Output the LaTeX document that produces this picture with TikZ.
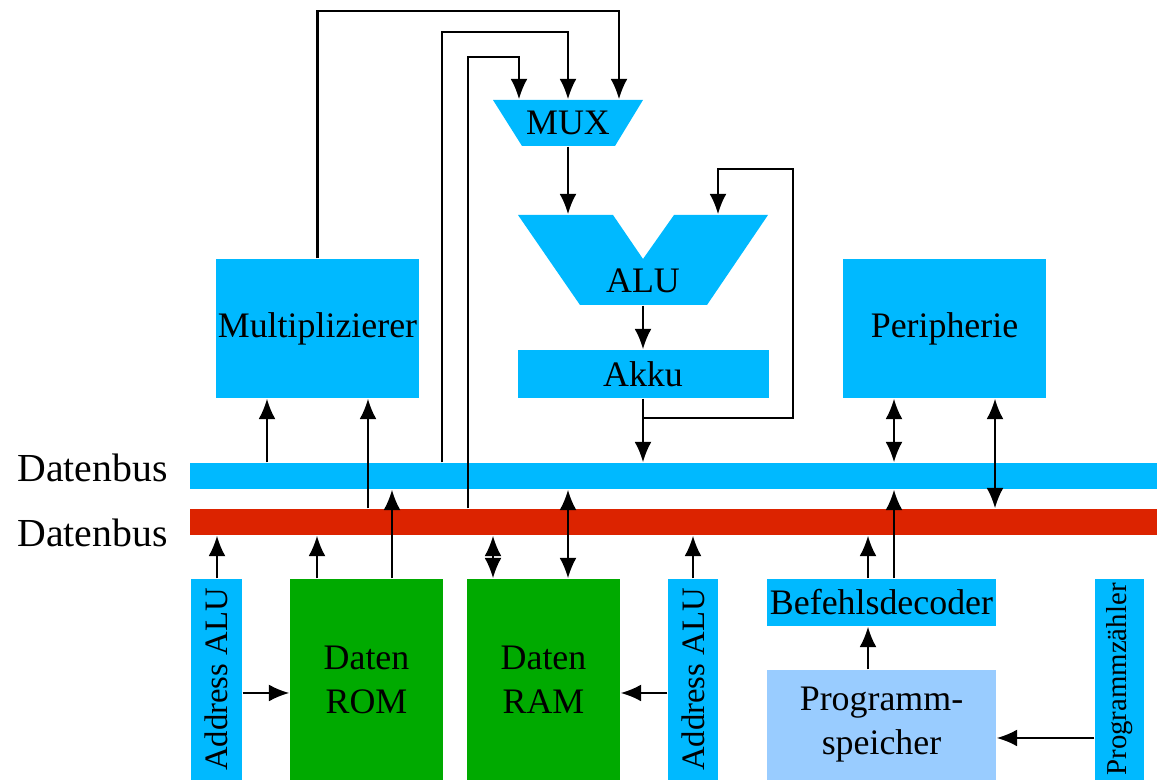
\documentclass[tikz,border=0pt]{standalone}
\usepackage{fontspec}
\setmainfont{Liberation Serif}
\usetikzlibrary{arrows.meta}
\definecolor{cpublue}{RGB}{0,185,255}
\definecolor{busred}{RGB}{220,35,0}
\definecolor{memgreen}{RGB}{0,170,0}
\definecolor{proglight}{RGB}{153,204,255}
\tikzset{
  unit/.style={rectangle,fill=cpublue,inner sep=0pt,align=center,font=\fontsize{10.2}{12.5}\selectfont},
  mem/.style={unit,fill=memgreen},
  bus/.style={rectangle,inner sep=0pt,minimum width=9.67cm,minimum height=0.26cm},
  wire/.style={line width=0.6pt},
  arr/.style={wire,-{Latex[length=5.8pt,width=4.8pt]}},
  darr/.style={wire,{Latex[length=5.8pt,width=4.8pt]}-{Latex[length=5.8pt,width=4.8pt]}},
}
% rectangle block: name, centre x, centre y, width, height (all in px units)
\newcommand*\blockat[7][]{\node[unit,minimum width=#5*0.01cm,minimum height=#6*0.01cm,#1] (#2) at (#3,#4) {#7};}

\begin{document}
\begin{tikzpicture}[x=0.01cm,y=-0.01cm]
\useasboundingbox (0,0) rectangle (1157,780);

% the two buses
\node[bus,fill=cpublue] (blue) at (673.5,476) {};
\node[bus,fill=busred]  (red)  at (673.5,522) {};
\node[anchor=west,font=\fontsize{11.3}{13}\selectfont] (lblue) at (5,468) {Datenbus};
\node[anchor=west,font=\fontsize{11.3}{13}\selectfont] (lred)  at (5,533) {Datenbus};

% MUX and ALU outlines
\fill[cpublue] (493,100) -- (643,100) -- (615,146) -- (522,146) -- cycle;
\fill[cpublue] (518,215) -- (613,215) -- (643,259) -- (674,215) -- (768,215)
  -- (707,305) -- (580,305) -- cycle;
\node[unit,fill=none,minimum width=1.5cm,minimum height=0.46cm] (mux) at (568,123) {MUX};
\node[unit,fill=none,minimum width=2.5cm,minimum height=0.9cm] (alu) at (643,260) {};
\node[unit,fill=none] (alutext) at (643,281) {ALU};

% upper blocks
\blockat{mult}{317.5}{328.5}{203}{139}{Multiplizierer}
\blockat{peri}{944.5}{328.5}{203}{139}{Peripherie}
\blockat{akku}{643}{374}{251}{48}{Akku}

% lower blocks
\blockat{adr1}{216.5}{679.5}{51}{201}{\fontsize{9.3}{11}\selectfont\rotatebox{90}{Address ALU}}
\blockat[mem]{rom}{366.5}{679.5}{153}{201}{Daten\\ROM}
\blockat[mem]{ram}{543.5}{679.5}{153}{201}{Daten\\RAM}
\blockat{adr2}{693}{679.5}{50}{201}{\fontsize{9.3}{11}\selectfont\rotatebox{90}{Address ALU}}
\blockat{dec}{881.5}{602.5}{229}{47}{Befehlsdecoder}
\blockat[fill=proglight]{prog}{881.5}{725}{229}{110}{Programm-\\speicher}
\blockat{pz}{1119.5}{679.5}{49}{201}{\fontsize{8.2}{10}\selectfont\rotatebox{90}{Programmzähler}}

% feeds into the MUX
\draw[arr] (mult.north) |- (619,11) -- (619,0 |- mux.north);
\draw[arr] (442,0 |- blue.north) |- (568,32) -- (mux.north);
\draw[arr] (468,0 |- red.north) |- (519,57) -- (519,0 |- mux.north);

% data path MUX -> ALU -> Akku -> bus
\draw[arr] (mux.south) -- (mux.south |- alu.north);
\draw[arr] (alu.south) -- (akku.north);
\draw[arr] (akku.south) -- (akku.south |- blue.north);
\draw[arr] (akku.south |- 0,418) -| (793,169) -| (718,0 |- alu.north);

% Multiplizierer and Peripherie
\draw[arr] (blue.north -| 267,0) -- (mult.south -| 267,0);
\draw[arr] (red.north -| 368,0) -- (mult.south -| 368,0);
\draw[darr] (peri.south -| 894,0) -- (blue.north -| 894,0);
\draw[darr] (peri.south -| 995,0) -- (red.north -| 995,0);

% lower blocks up to the buses
\foreach \x/\a/\b in {217/adr1/red, 317/rom/red, 392/rom/blue, 693/adr2/red, 868/dec/red, 894/dec/blue}
  \draw[arr] (\a.north -| \x,0) -- (\b.south -| \x,0);
\draw[darr] (ram.north -| 493,0) -- (red.south -| 493,0);
\draw[darr] (ram.north -| 568,0) -- (blue.south -| 568,0);

% addressing
\draw[arr] (adr1.east |- 0,693) -- (rom.west |- 0,693);
\draw[arr] (adr2.west |- 0,693) -- (ram.east |- 0,693);
\draw[arr] (prog.north -| 868,0) -- (dec.south -| 868,0);
\draw[arr] (pz.west |- 0,738) -- (prog.east |- 0,738);

\end{tikzpicture}
\end{document}
